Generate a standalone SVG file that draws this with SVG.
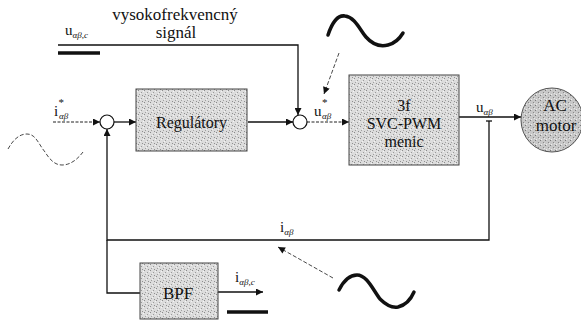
<svg xmlns="http://www.w3.org/2000/svg" width="581" height="321" viewBox="0 0 581 321">
<style>
.ln{fill:none;stroke:#111;stroke-width:1.3}
.dsh{fill:none;stroke:#222;stroke-width:1;stroke-dasharray:3,1.5}
.thin{fill:none;stroke:#333;stroke-width:0.9;stroke-dasharray:4,2}
.sine{fill:none;stroke:#111;stroke-width:3.5;stroke-linecap:round}
.box{fill:url(#stip);stroke:#444;stroke-width:1}
.bar{stroke:#111;stroke-width:3.5}
</style>
<defs>
<pattern id="stip" width="6" height="6" patternUnits="userSpaceOnUse">
<rect width="6" height="6" fill="#dcdcdc"/>
<rect x="0" y="0" width="1" height="1" fill="#8a8a8a"/>
<rect x="3" y="2" width="1" height="1" fill="#9a9a9a"/>
<rect x="1" y="4" width="1" height="1" fill="#a0a0a0"/>
<rect x="4" y="5" width="1" height="1" fill="#909090"/>
<rect x="5" y="1" width="1" height="1" fill="#f4f4f4"/>
<rect x="2" y="3" width="1" height="1" fill="#f2f2f2"/>
</pattern>
<pattern id="stip2" width="5" height="5" patternUnits="userSpaceOnUse">
<rect width="5" height="5" fill="#c8c8c8"/>
<rect x="0" y="0" width="1" height="1" fill="#7a7a7a"/>
<rect x="3" y="2" width="1" height="1" fill="#888"/>
<rect x="1" y="4" width="1" height="1" fill="#eee"/>
<rect x="4" y="3" width="1" height="1" fill="#e8e8e8"/>
</pattern>
<marker id="ar" viewBox="0 0 10 10" refX="10" refY="5" markerWidth="9" markerHeight="7" markerUnits="userSpaceOnUse" orient="auto">
<path d="M0,0 L10,5 L0,10 z" fill="#111"/>
</marker>
</defs>

<g id="connectors">
<line class="dsh" x1="53" y1="122" x2="100" y2="122" marker-end="url(#ar)"/>
<line class="ln" x1="114" y1="122" x2="136" y2="122" marker-end="url(#ar)"/>
<line class="ln" x1="248" y1="122" x2="293" y2="122" marker-end="url(#ar)" style="stroke-width:1.6"/>
<polyline class="ln" points="58,45 298,45 298,115" marker-end="url(#ar)"/>
<line class="dsh" x1="307" y1="122" x2="349" y2="122" marker-end="url(#ar)"/>
<line class="ln" x1="459" y1="117" x2="521" y2="117" marker-end="url(#ar)"/>
<line class="ln" x1="486" y1="121" x2="492" y2="121"/>
<polyline class="ln" points="489,121 489,240 107,240 107,129" marker-end="url(#ar)"/>
<polyline class="ln" points="107,240 107,293 140,293"/>
<line class="ln" x1="218" y1="292" x2="263" y2="292" marker-end="url(#ar)"/>
<line class="thin" x1="339" y1="53" x2="324" y2="94" marker-end="url(#ar)"/>
<line class="thin" x1="333" y1="278" x2="278" y2="247" marker-end="url(#ar)"/>
</g>

<g id="sum1"><circle cx="107" cy="122" r="7" fill="#fff" stroke="#111" stroke-width="1.2"/></g>
<g id="sum2"><circle cx="300" cy="122" r="7" fill="#fff" stroke="#111" stroke-width="1.2"/></g>

<g id="regulatory">
<rect class="box" x="136" y="89" width="111" height="62"/>
<text x="191.5" y="128" font-family="Liberation Serif, DejaVu Serif, serif" font-size="16" text-anchor="middle" fill="#111">Regulátory</text>
</g>

<g id="svcpwm" font-family="Liberation Serif, DejaVu Serif, serif" fill="#111">
<rect class="box" x="349" y="75" width="110" height="90"/>
<text x="404" y="111" font-size="16" text-anchor="middle">3f</text>
<text x="404" y="129" font-size="16" text-anchor="middle">SVC-PWM</text>
<text x="404" y="147" font-size="16" text-anchor="middle">menic</text>
</g>

<g id="motor" font-family="Liberation Serif, DejaVu Serif, serif" fill="#111">
<ellipse cx="552" cy="120" rx="31" ry="32" fill="url(#stip2)" stroke="#555" stroke-width="1"/>
<text x="555" y="111" font-size="17" text-anchor="middle">AC</text>
<text x="556" y="131" font-size="17" text-anchor="middle">motor</text>
</g>

<g id="bpf" font-family="Liberation Serif, DejaVu Serif, serif" fill="#111">
<rect class="box" x="140" y="263" width="78" height="56"/>
<text x="178" y="299" font-size="17" text-anchor="middle">BPF</text>
</g>

<g id="labels" font-family="Liberation Serif, DejaVu Serif, serif" fill="#111">
<text x="175" y="20" font-size="17" text-anchor="middle">vysokofrekvencný</text>
<text x="176" y="38" font-size="17" text-anchor="middle">signál</text>
<text x="65" y="35" font-size="15">u<tspan font-size="9" dy="3" font-style="italic">αβ,c</tspan></text>
<line class="bar" x1="58" y1="53" x2="100" y2="53"/>
<text x="54" y="116" font-size="15">i<tspan x="58.5" dy="-10" font-size="11">*</tspan><tspan x="59" dy="13" font-size="9" font-style="italic">αβ</tspan></text>
<text x="314" y="116" font-size="15">u<tspan x="322" dy="-10" font-size="11">*</tspan><tspan x="322" dy="13" font-size="9" font-style="italic">αβ</tspan></text>
<text x="476" y="112" font-size="15">u<tspan font-size="9" dy="3" font-style="italic">αβ</tspan></text>
<text x="280" y="232" font-size="15">i<tspan font-size="9" dy="3" font-style="italic">αβ</tspan></text>
<text x="235" y="282" font-size="15">i<tspan font-size="9" dy="3" font-style="italic">αβ,c</tspan></text>
<line class="bar" x1="227" y1="312" x2="268" y2="312"/>
</g>

<g id="waves">
<path class="sine" d="M328,35 C333,20 339,15 345,16 C355,17 360,30 366,37 C373,45 380,47 388,45 C396,43 400,38 403,33"/>
<path class="sine" d="M339,290 C344,280 350,275 357,275 C367,275 373,290 380,299 C387,306 392,308 398,307 C406,305 411,299 414,292"/>
<path class="thin" d="M8,149 C13,140 19,134 27,134 C36,134 39,145 45,152 C50,160 55,165 62,165 C70,165 77,160 83,152"/>
</g>
</svg>
